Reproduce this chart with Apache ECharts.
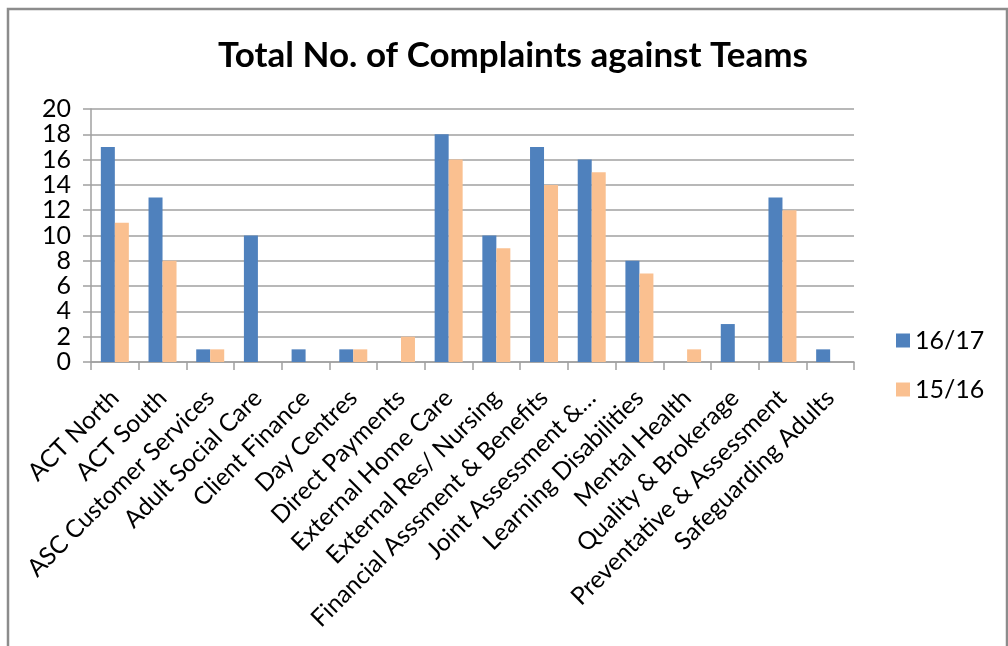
<!DOCTYPE html>
<html>
<head>
<meta charset="utf-8">
<script src="https://cdn.jsdelivr.net/npm/echarts@6/dist/echarts.min.js"></script>
<style>
html,body{margin:0;padding:0;background:#fff;}
#chart{width:1008px;height:646px;}
</style>
</head>
<body>
<div id="chart"></div>
<script>
const categories = [
  "ACT North", "ACT South", "ASC Customer Services", "Adult Social Care",
  "Client Finance", "Day Centres", "Direct Payments", "External Home Care",
  "External Res/ Nursing", "Financial Asssment & Benefits", "Joint Assessment &…",
  "Learning Disabilities", "Mental Health", "Quality & Brokerage",
  "Preventative & Assessment", "Safeguarding Adults"
];
const series1617 = [17, 13, 1, 10, 1, 1, 0, 18, 10, 17, 16, 8, 0, 3, 13, 1];
const series1516 = [11, 8, 1, 0, 0, 1, 2, 16, 9, 14, 15, 7, 1, 0, 12, 0];
const yTicks = { min: 0, max: 20, interval: 2 };

const FONT = 'Lato';
const chart = echarts.init(document.getElementById('chart'));
chart.setOption({
  animation: false,
  backgroundColor: '#ffffff',
  textStyle: { fontFamily: FONT },
  title: {
    text: 'Total No. of Complaints against Teams',
    left: 508, top: 33, textAlign: 'center',
    textStyle: { fontFamily: FONT, fontWeight: 'bold', fontSize: 35, color: '#000' }
  },
  graphic: [{
    type: 'rect', silent: true, z: -1,
    shape: { x: 8, y: 9, width: 999, height: 700 },
    style: { fill: 'none', stroke: '#8c8c8c', lineWidth: 2.5 }
  }],
  legend: {
    orient: 'vertical', left: 896, top: 328, padding: 0,
    itemWidth: 14, itemHeight: 14, itemGap: 24,
    icon: 'rect',
    textStyle: { fontFamily: FONT, fontSize: 25, color: '#000' },
    data: ['16/17', '15/16']
  },
  grid: { left: 91, right: 154, top: 109, height: 253, containLabel: false },
  xAxis: {
    type: 'category', data: categories, boundaryGap: true,
    axisLine: { lineStyle: { color: '#a0a0a0', width: 1.5 } },
    axisTick: { show: true, length: 8, alignWithLabel: false, lineStyle: { color: '#a0a0a0', width: 1.5 } },
    axisLabel: { rotate: 45, interval: 0, margin: 32, fontFamily: FONT, fontSize: 24.5, color: '#000' }
  },
  yAxis: {
    type: 'value', min: yTicks.min, max: yTicks.max, interval: yTicks.interval,
    axisLine: { show: true, lineStyle: { color: '#a0a0a0', width: 1.5 } },
    axisTick: { show: true, length: 8, lineStyle: { color: '#a0a0a0', width: 1.5 } },
    splitLine: { lineStyle: { color: '#a0a0a0', width: 1.5 } },
    axisLabel: { margin: 20, fontFamily: FONT, fontSize: 25, color: '#000' }
  },
  series: [
    { name: '16/17', type: 'bar', data: series1617, barWidth: 14, barGap: '0%',
      itemStyle: { color: '#4F81BD' } },
    { name: '15/16', type: 'bar', data: series1516, barWidth: 14, barGap: '0%',
      itemStyle: { color: '#FAC090' } }
  ]
});
</script>
</body>
</html>
